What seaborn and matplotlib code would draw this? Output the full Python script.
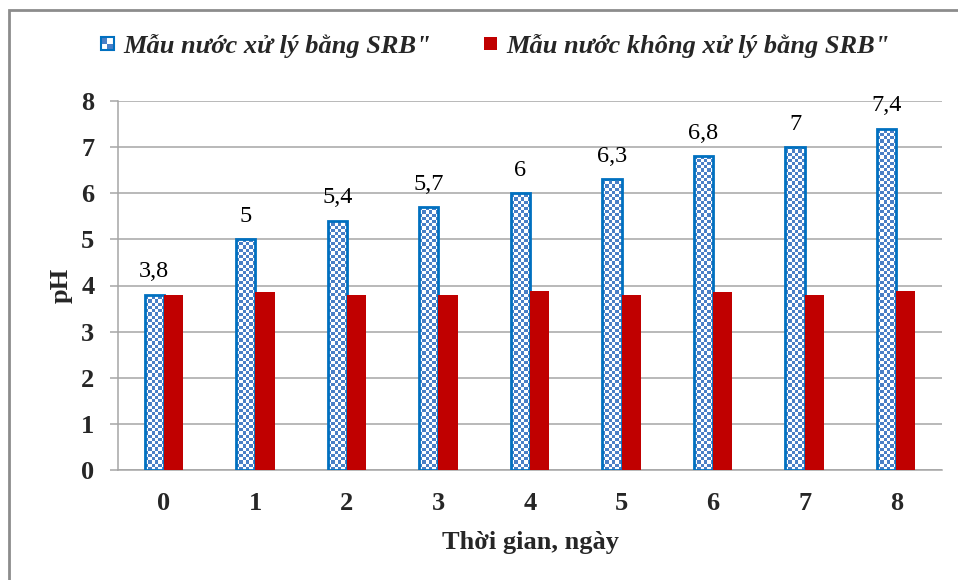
import numpy as np
import pandas as pd
import matplotlib
matplotlib.use("Agg")
import matplotlib.pyplot as plt
import seaborn as sns
from matplotlib.patches import Rectangle
from matplotlib.legend_handler import HandlerBase

days = ["0", "1", "2", "3", "4", "5", "6", "7", "8"]
treated = [3.8, 5.0, 5.4, 5.7, 6.0, 6.3, 6.8, 7.0, 7.4]
untreated = [3.8, 3.85, 3.8, 3.8, 3.88, 3.8, 3.85, 3.8, 3.88]
treated_labels = ["3,8", "5", "5,4", "5,7", "6", "6,3", "6,8", "7", "7,4"]
series_names = ['Mẫu nước xử lý bằng SRB"', 'Mẫu nước không xử lý bằng SRB"']
y_ticks = [0, 1, 2, 3, 4, 5, 6, 7, 8]

BLUE_EDGE = "#0070c0"
BLUE_CHECK = "#4a7fc6"
RED = "#c00000"
GRID = "#a6a6a6"

sns.set_theme(style="white")
plt.rcParams["font.family"] = ["Liberation Serif", "DejaVu Serif"]

df = pd.DataFrame({
    "day": days * 2,
    "pH": treated + untreated,
    "series": [series_names[0]] * len(days) + [series_names[1]] * len(days),
})

fig = plt.figure(figsize=(9.58, 5.8), dpi=100)
ax = fig.add_axes([118 / 958, 1 - 470 / 580, (942 - 118) / 958, (470 - 101) / 580])

sns.barplot(data=df, x="day", y="pH", hue="series", order=days, hue_order=series_names,
            palette=["white", RED], width=0.42, gap=0, dodge=True, ax=ax,
            errorbar=None, legend=False, saturation=1)

ax.set_xlim(-0.5, 8.5)
ax.set_ylim(0, 8)
ax.set_yticks(y_ticks)

blue_bars = ax.containers[0]
for p in blue_bars:
    p.set_facecolor("none")
    p.set_edgecolor(BLUE_EDGE)
    p.set_linewidth(2.0)
    p.set_zorder(3)
for p in ax.containers[1]:
    p.set_linewidth(0)
    p.set_zorder(3)

fig.canvas.draw()
cmap = matplotlib.colors.ListedColormap(["white", BLUE_CHECK])
for p in blue_bars:
    x0, y0 = p.get_x(), p.get_y()
    w, h = p.get_width(), p.get_height()
    (px0, py0) = ax.transData.transform((x0, y0))
    (px1, py1) = ax.transData.transform((x0 + w, y0 + h))
    nx = 6
    cell = (px1 - px0) / nx
    ny = max(1, int(np.ceil((py1 - py0) / cell)))
    arr = (np.add.outer(np.arange(ny), np.arange(nx)) % 2).astype(float)
    im = ax.imshow(arr, cmap=cmap, vmin=0, vmax=1,
                   extent=(x0, x0 + w, y0, y0 + ny * cell * h / (py1 - py0)),
                   origin="lower", interpolation="nearest", aspect="auto", zorder=2.9)
    im.set_clip_path(p)

ax.set_xlim(-0.5, 8.5)
ax.set_ylim(0, 8)

for p, lab in zip(blue_bars, treated_labels):
    ax.annotate(lab, (p.get_x() + p.get_width() / 2, p.get_height()),
                xytext=(0, 9), textcoords="offset points", ha="center", va="bottom",
                fontsize=17.5, color="black", zorder=5)

ax.yaxis.grid(True, color=GRID, linewidth=1.1, zorder=0)
ax.set_axisbelow(True)
for s in ["top", "right"]:
    ax.spines[s].set_visible(False)
for s in ["left", "bottom"]:
    ax.spines[s].set_color(GRID)
    ax.spines[s].set_linewidth(1.1)
ax.tick_params(axis="y", which="major", direction="out", length=6, width=1.1, color=GRID,
               labelsize=19, pad=11, left=True)
ax.tick_params(axis="x", length=0, labelsize=19, pad=16)
for t in ax.get_xticklabels() + ax.get_yticklabels():
    t.set_fontweight("bold")

ax.set_xlabel("Thời gian, ngày", fontsize=19, fontweight="bold", labelpad=11)
ax.set_ylabel("pH", fontsize=19, fontweight="bold", labelpad=6)


class CheckerHandler(HandlerBase):
    def create_artists(self, legend, orig_handle, xdescent, ydescent, width, height, fontsize, trans):
        s = min(width, height)
        x = -xdescent + (width - s) / 2
        y = -ydescent + (height - s) / 2
        half = s / 2
        return [
            Rectangle((x, y), s, s, facecolor="white", edgecolor="none", transform=trans),
            Rectangle((x, y + half), half, half, facecolor=BLUE_CHECK, edgecolor="none", transform=trans),
            Rectangle((x + half, y), half, half, facecolor=BLUE_CHECK, edgecolor="none", transform=trans),
            Rectangle((x, y), s, s, facecolor="none", edgecolor=BLUE_EDGE, linewidth=1.5, transform=trans),
        ]


class SquareHandler(HandlerBase):
    def create_artists(self, legend, orig_handle, xdescent, ydescent, width, height, fontsize, trans):
        s = min(width, height)
        x = -xdescent + (width - s) / 2
        y = -ydescent + (height - s) / 2
        return [Rectangle((x, y), s, s, facecolor=RED, edgecolor="none", transform=trans)]


h1 = Rectangle((0, 0), 1, 1)
h2 = Rectangle((0, 0), 1, 1)
fig.legend([h1, h2], series_names, loc="center", bbox_to_anchor=(495 / 958, 1 - 46 / 580),
           ncol=2, frameon=False, handlelength=0.5, handleheight=0.5, handletextpad=0.35,
           columnspacing=2.0,
           prop={"family": ["Liberation Serif"], "style": "italic", "weight": "bold", "size": 19},
           handler_map={h1: CheckerHandler(), h2: SquareHandler()})

border = Rectangle((9 / 958, -0.1), 1.2, 1.1 - 10 / 580, transform=fig.transFigure,
                   facecolor="none", edgecolor="#8c8c8c", linewidth=2.0)
fig.patches.append(border)

fig.savefig("out.png", dpi=100)
